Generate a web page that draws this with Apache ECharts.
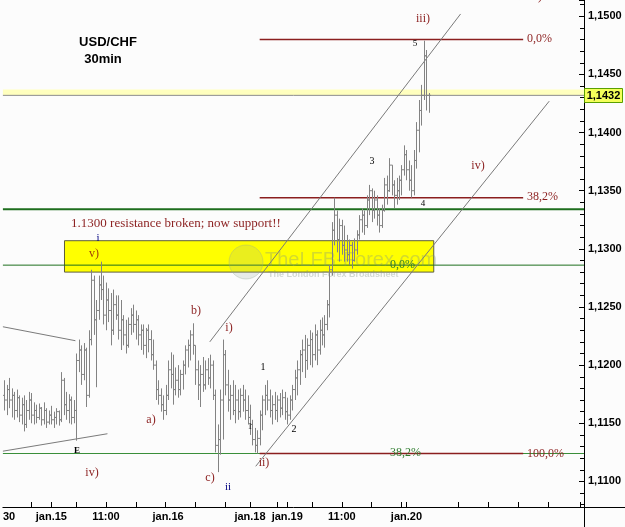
<!DOCTYPE html>
<html>
<head>
<meta charset="utf-8">
<script src="https://cdn.jsdelivr.net/npm/echarts@6/dist/echarts.min.js"></script>
<style>
  html, body { margin: 0; padding: 0; background: #fcfcfc; }
  #chart { width: 625px; height: 527px; }
</style>
</head>
<body>
<div id="chart"></div>
<script>
// number of 30min slots on the axis (bars + empty space on the right)
var N = 234;

// OHLC bars, 30min
var opens = [
  1.1174, 1.1170, 1.1179, 1.1170, 1.1174, 1.1161, 1.1172, 1.1157, 1.1166, 1.1149,
  1.1161, 1.1170, 1.1157, 1.1161, 1.1155, 1.1163, 1.1153, 1.1161, 1.1151, 1.1157,
  1.1153, 1.1155, 1.1160, 1.1153, 1.1187, 1.1166, 1.1161, 1.1170, 1.1155, 1.1161,
  1.1204, 1.1213, 1.1192, 1.1213, 1.1174, 1.1222, 1.1273, 1.1239, 1.1247, 1.1269,
  1.1265, 1.1243, 1.1256, 1.1247, 1.1230, 1.1252, 1.1243, 1.1230, 1.1239, 1.1226,
  1.1217, 1.1235, 1.1243, 1.1235, 1.1239, 1.1226, 1.1230, 1.1217, 1.1230, 1.1222,
  1.1209, 1.1200, 1.1179, 1.1174, 1.1166, 1.1161, 1.1174, 1.1196, 1.1192, 1.1179,
  1.1187, 1.1179, 1.1192, 1.1200, 1.1213, 1.1217, 1.1226, 1.1217, 1.1196, 1.1183,
  1.1192, 1.1183, 1.1196, 1.1189, 1.1200, 1.1174, 1.1131, 1.1136, 1.1170, 1.1209,
  1.1183, 1.1170, 1.1174, 1.1161, 1.1170, 1.1160, 1.1174, 1.1170, 1.1161, 1.1155,
  1.1149, 1.1136, 1.1131, 1.1137, 1.1157, 1.1170, 1.1174, 1.1170, 1.1161, 1.1166,
  1.1161, 1.1170, 1.1163, 1.1172, 1.1160, 1.1157, 1.1170, 1.1179, 1.1189, 1.1196,
  1.1209, 1.1213, 1.1204, 1.1217, 1.1222, 1.1209, 1.1226, 1.1213, 1.1230, 1.1226,
  1.1235, 1.1252, 1.1282, 1.1316, 1.1329, 1.1308, 1.1320, 1.1303, 1.1299, 1.1295,
  1.1303, 1.1290, 1.1299, 1.1312, 1.1325, 1.1329, 1.1320, 1.1342, 1.1350, 1.1333,
  1.1342, 1.1329, 1.1320, 1.1333, 1.1355, 1.1350, 1.1372, 1.1355, 1.1346, 1.1350,
  1.1359, 1.1368, 1.1381, 1.1368, 1.1359, 1.1350, 1.1376, 1.1402, 1.1419, 1.1432,
  1.1466, 1.1432
];
var highs = [
  1.1187, 1.1183, 1.1189, 1.1180, 1.1177, 1.1179, 1.1174, 1.1172, 1.1174, 1.1170,
  1.1177, 1.1176, 1.1168, 1.1166, 1.1167, 1.1164, 1.1168, 1.1163, 1.1161, 1.1165,
  1.1160, 1.1163, 1.1161, 1.1194, 1.1189, 1.1177, 1.1175, 1.1173, 1.1170, 1.1210,
  1.1222, 1.1217, 1.1219, 1.1215, 1.1230, 1.1282, 1.1277, 1.1256, 1.1277, 1.1289,
  1.1277, 1.1271, 1.1266, 1.1262, 1.1265, 1.1260, 1.1260, 1.1256, 1.1243, 1.1239,
  1.1241, 1.1249, 1.1252, 1.1247, 1.1243, 1.1235, 1.1235, 1.1232, 1.1235, 1.1230,
  1.1222, 1.1204, 1.1187, 1.1180, 1.1174, 1.1183, 1.1204, 1.1211, 1.1209, 1.1198,
  1.1200, 1.1196, 1.1204, 1.1217, 1.1222, 1.1230, 1.1236, 1.1217, 1.1204, 1.1200,
  1.1207, 1.1204, 1.1206, 1.1209, 1.1204, 1.1179, 1.1149, 1.1179, 1.1222, 1.1213,
  1.1196, 1.1183, 1.1187, 1.1183, 1.1179, 1.1180, 1.1183, 1.1179, 1.1174, 1.1166,
  1.1153, 1.1146, 1.1144, 1.1161, 1.1174, 1.1183, 1.1187, 1.1179, 1.1174, 1.1177,
  1.1174, 1.1176, 1.1179, 1.1177, 1.1172, 1.1174, 1.1183, 1.1196, 1.1204, 1.1213,
  1.1222, 1.1226, 1.1223, 1.1230, 1.1228, 1.1235, 1.1230, 1.1239, 1.1241, 1.1243,
  1.1256, 1.1286, 1.1323, 1.1344, 1.1333, 1.1326, 1.1325, 1.1320, 1.1312, 1.1308,
  1.1306, 1.1309, 1.1316, 1.1329, 1.1335, 1.1333, 1.1346, 1.1355, 1.1352, 1.1350,
  1.1346, 1.1335, 1.1338, 1.1361, 1.1363, 1.1378, 1.1372, 1.1359, 1.1361, 1.1363,
  1.1372, 1.1389, 1.1385, 1.1376, 1.1372, 1.1385, 1.1409, 1.1428, 1.1441, 1.1479,
  1.1471, 1.1434
];
var lows = [
  1.1161, 1.1157, 1.1163, 1.1155, 1.1153, 1.1155, 1.1151, 1.1149, 1.1143, 1.1146,
  1.1153, 1.1150, 1.1149, 1.1150, 1.1153, 1.1148, 1.1149, 1.1146, 1.1149, 1.1149,
  1.1146, 1.1149, 1.1148, 1.1151, 1.1157, 1.1153, 1.1150, 1.1149, 1.1150, 1.1135,
  1.1194, 1.1183, 1.1187, 1.1164, 1.1172, 1.1217, 1.1226, 1.1181, 1.1239, 1.1256,
  1.1235, 1.1230, 1.1237, 1.1217, 1.1226, 1.1239, 1.1222, 1.1213, 1.1217, 1.1210,
  1.1215, 1.1226, 1.1228, 1.1222, 1.1217, 1.1213, 1.1209, 1.1206, 1.1211, 1.1204,
  1.1196, 1.1170, 1.1166, 1.1160, 1.1153, 1.1157, 1.1170, 1.1180, 1.1166, 1.1174,
  1.1172, 1.1174, 1.1179, 1.1192, 1.1198, 1.1204, 1.1209, 1.1183, 1.1170, 1.1164,
  1.1177, 1.1179, 1.1183, 1.1180, 1.1170, 1.1125, 1.1108, 1.1123, 1.1136, 1.1174,
  1.1160, 1.1153, 1.1157, 1.1150, 1.1153, 1.1155, 1.1160, 1.1153, 1.1149, 1.1140,
  1.1131, 1.1125, 1.1124, 1.1131, 1.1144, 1.1157, 1.1161, 1.1155, 1.1149, 1.1153,
  1.1151, 1.1155, 1.1157, 1.1153, 1.1149, 1.1153, 1.1161, 1.1170, 1.1174, 1.1183,
  1.1194, 1.1189, 1.1196, 1.1200, 1.1198, 1.1204, 1.1200, 1.1209, 1.1217, 1.1215,
  1.1230, 1.1241, 1.1277, 1.1303, 1.1297, 1.1289, 1.1295, 1.1289, 1.1289, 1.1286,
  1.1283, 1.1289, 1.1295, 1.1308, 1.1314, 1.1312, 1.1318, 1.1329, 1.1323, 1.1326,
  1.1320, 1.1314, 1.1318, 1.1332, 1.1338, 1.1349, 1.1346, 1.1335, 1.1338, 1.1342,
  1.1346, 1.1363, 1.1359, 1.1350, 1.1344, 1.1346, 1.1369, 1.1383, 1.1406, 1.1428,
  1.1419, 1.1417
];
var closes = [
  1.1170, 1.1179, 1.1170, 1.1174, 1.1161, 1.1172, 1.1157, 1.1166, 1.1149, 1.1161,
  1.1170, 1.1157, 1.1161, 1.1155, 1.1163, 1.1153, 1.1161, 1.1151, 1.1157, 1.1153,
  1.1155, 1.1160, 1.1153, 1.1187, 1.1166, 1.1161, 1.1170, 1.1155, 1.1161, 1.1204,
  1.1213, 1.1192, 1.1213, 1.1174, 1.1222, 1.1273, 1.1239, 1.1247, 1.1269, 1.1265,
  1.1243, 1.1256, 1.1247, 1.1230, 1.1252, 1.1243, 1.1230, 1.1239, 1.1226, 1.1217,
  1.1235, 1.1243, 1.1235, 1.1239, 1.1226, 1.1230, 1.1217, 1.1230, 1.1222, 1.1209,
  1.1200, 1.1179, 1.1174, 1.1166, 1.1161, 1.1174, 1.1196, 1.1192, 1.1179, 1.1187,
  1.1179, 1.1192, 1.1200, 1.1213, 1.1217, 1.1226, 1.1217, 1.1196, 1.1183, 1.1192,
  1.1183, 1.1196, 1.1189, 1.1200, 1.1174, 1.1131, 1.1136, 1.1170, 1.1209, 1.1183,
  1.1170, 1.1174, 1.1161, 1.1170, 1.1160, 1.1174, 1.1170, 1.1161, 1.1155, 1.1149,
  1.1136, 1.1131, 1.1137, 1.1157, 1.1170, 1.1174, 1.1170, 1.1161, 1.1166, 1.1161,
  1.1170, 1.1163, 1.1172, 1.1160, 1.1157, 1.1170, 1.1179, 1.1189, 1.1196, 1.1209,
  1.1213, 1.1204, 1.1217, 1.1222, 1.1209, 1.1226, 1.1213, 1.1230, 1.1226, 1.1235,
  1.1252, 1.1282, 1.1316, 1.1329, 1.1308, 1.1320, 1.1303, 1.1299, 1.1295, 1.1303,
  1.1290, 1.1299, 1.1312, 1.1325, 1.1329, 1.1320, 1.1342, 1.1350, 1.1333, 1.1342,
  1.1329, 1.1320, 1.1333, 1.1355, 1.1350, 1.1372, 1.1355, 1.1346, 1.1350, 1.1359,
  1.1368, 1.1381, 1.1368, 1.1359, 1.1350, 1.1376, 1.1402, 1.1419, 1.1432, 1.1466,
  1.1432, 1.1432
];

// time axis: where the ticks and the labels sit (slot index)
var tickIdx = [11, 19, 29, 41, 53, 65, 77, 89, 99, 110, 114, 124, 136, 148, 160, 162, 183, 195, 207, 219, 232];
var labelIdx = [2, 19, 41, 66, 99, 114, 136, 162];
var labelText = ['30', 'jan.15', '11:00', 'jan.16', 'jan.18', 'jan.19', '11:00', 'jan.20'];

// price levels
var lastPrice = 1.1432;
var fibLevels = [1.1480, 1.1344, 1.1124];        // 0,0% / 38,2% / 100,0%
var fibFrom = 103.4, fibTo = 209.5;
var greenLevels = [1.1334, 1.1286, 1.1124];
var boxLevels = [1.1280, 1.1307];
var boxFrom = 24.8, boxTo = 173.5;

// drawn trend lines [slot, price]
var channelTop = [[83.3, 1.1220], [184.3, 1.1502]];
var channelBottom = [[101.8, 1.1113], [220.0, 1.1427]];
var triangleTop = [[0, 1.1233], [29.2, 1.1221]];
var triangleBottom = [[0, 1.1126], [42.1, 1.1141]];

var cats = [];
for (var i = 0; i < N; i++) {
    var k = labelIdx.indexOf(i);
    cats.push(k >= 0 ? labelText[k] : '');
}
var bars = [];
for (var j = 0; j < opens.length; j++) {
    bars.push([j, opens[j], closes[j], lows[j], highs[j]]);
}

var red = '#8b1f1f';
var green = '#2f7d2f';
var serif = '"Liberation Serif", "DejaVu Serif", serif';
var sans = '"Liberation Sans", Arial, sans-serif';

function line(points, color, width) {
    return {
        type: 'line', xAxisIndex: 1, yAxisIndex: 0, data: points,
        symbol: 'none', silent: true, z: 2, animation: false,
        lineStyle: {color: color, width: width}
    };
}

var series = [];
series.push({
    type: 'line', xAxisIndex: 1, yAxisIndex: 0, data: [], z: 1, silent: true,
    markArea: {
        silent: true,
        data: [
            [{coord: [0, lastPrice + 0.0005], itemStyle: {color: '#ffffbe', borderWidth: 0}}, {coord: [N, lastPrice]}],
            [{coord: [boxFrom, boxLevels[1]], itemStyle: {color: '#ffff00', borderColor: '#5e5e3a', borderWidth: 1}}, {coord: [boxTo, boxLevels[0]]}]
        ]
    }
});
series.push(line([[0, lastPrice], [N, lastPrice]], '#8c8c8c', 1));
series.push(line([[0, greenLevels[0]], [N, greenLevels[0]]], '#1e6e1e', 2));
series.push(line([[0, greenLevels[1]], [N, greenLevels[1]]], '#1e6e1e', 1));
series.push(line([[0, greenLevels[2]], [N, greenLevels[2]]], '#3a8f3a', 1));
fibLevels.forEach(function (v) {
    series.push(line([[fibFrom, v], [fibTo, v]], red, 1.5));
});
series.push(line(channelTop, '#7a7a7a', 1));
series.push(line(channelBottom, '#7a7a7a', 1));
series.push(line(triangleTop, '#7a7a7a', 1));
series.push(line(triangleBottom, '#7a7a7a', 1));

series.push({
    type: 'custom', xAxisIndex: 0, yAxisIndex: 0, z: 5, silent: true, animation: false,
    data: bars,
    encode: {x: 0, y: [1, 2, 3, 4]},
    renderItem: function (params, api) {
        var idx = api.value(0);
        var hi = api.coord([idx, api.value(4)]);
        var lo = api.coord([idx, api.value(3)]);
        var op = api.coord([idx, api.value(1)]);
        var cl = api.coord([idx, api.value(2)]);
        var x = Math.round(hi[0]) + 0.5;
        var st = {stroke: '#838383', lineWidth: 1};
        return {
            type: 'group',
            children: [
                {type: 'line', shape: {x1: x, y1: hi[1], x2: x, y2: lo[1]}, style: st},
                {type: 'line', shape: {x1: x - 1.5, y1: op[1], x2: x, y2: op[1]}, style: st},
                {type: 'line', shape: {x1: x, y1: cl[1], x2: x + 1.5, y2: cl[1]}, style: st}
            ]
        };
    }
});

// annotation texts: text, x, y, colour, font
var notes = [
    ['USD/CHF', 108, 42, '#000', 'bold 13px ' + sans],
    ['30min', 103, 59, '#000', 'bold 13px ' + sans],
    ['iii)', 423, 19, red, '12px ' + serif],
    ['v)', 537, -3, red, '12px ' + serif],
    ['5', 415, 44, '#000', '9px ' + serif],
    ['3', 372, 161, '#000', '10px ' + serif],
    ['4', 423, 204, '#000', '9px ' + serif],
    ['iv)', 478, 166, red, '12px ' + serif],
    ['1.1300 resistance broken; now support!!', 176, 224, red, '13px ' + serif],
    ['i', 98, 238, '#000080', '11px ' + serif],
    ['v)', 94, 254, '#a0400a', '12px ' + serif],
    ['b)', 196, 311, red, '12px ' + serif],
    ['i)', 229, 328, red, '12px ' + serif],
    ['1', 263, 367, '#000', '10px ' + serif],
    ['1', 250, 427, '#000', '8px ' + serif],
    ['2', 294, 429, '#000', '10px ' + serif],
    ['a)', 151, 420, red, '12px ' + serif],
    ['E', 77, 451, '#000', 'bold 9px ' + serif],
    ['iv)', 92, 473, red, '12px ' + serif],
    ['c)', 210, 478, red, '12px ' + serif],
    ['ii', 228, 487, '#000080', '11px ' + serif],
    ['ii)', 264, 463, red, '12px ' + serif]
];
var graphics = notes.map(function (n) {
    return {
        type: 'text', x: n[1], y: n[2], z: 20, silent: true,
        style: {text: n[0], fill: n[3], font: n[4], align: 'center', verticalAlign: 'middle',
                textAlign: 'center', textVerticalAlign: 'middle'}
    };
});
// level names next to the lines
var levelText = [
    ['0,0%', 527, 39, red], ['38,2%', 527, 197, red], ['100,0%', 527, 454, red],
    ['0,0%', 390, 265, green], ['38,2%', 390, 453, green]
];
levelText.forEach(function (n) {
    graphics.push({
        type: 'text', x: n[1], y: n[2], z: 20, silent: true,
        style: {text: n[0], fill: n[3], font: '12px ' + serif, align: 'left', verticalAlign: 'middle',
                textAlign: 'left', textVerticalAlign: 'middle'}
    });
});
// watermark
graphics.push({type: 'circle', shape: {cx: 246, cy: 262, r: 17}, z: 3, silent: true,
    style: {fill: 'rgba(150,170,150,0.2)', stroke: 'rgba(150,170,150,0.35)'}});
graphics.push({type: 'text', x: 265, y: 260, z: 3, silent: true,
    style: {text: 'TheLFB-Forex.com', fill: 'rgba(130,150,130,0.35)', font: '20px ' + sans,
            align: 'left', verticalAlign: 'middle', textAlign: 'left', textVerticalAlign: 'middle'}});
graphics.push({type: 'text', x: 268, y: 275, z: 3, silent: true,
    style: {text: 'The London Forex Broadsheet', fill: 'rgba(130,150,130,0.35)', font: 'bold 9px ' + sans,
            align: 'left', verticalAlign: 'middle', textAlign: 'left', textVerticalAlign: 'middle'}});
// axis lines running past the corner
graphics.push({type: 'line', shape: {x1: 584, y1: 507.5, x2: 625, y2: 507.5}, z: 20, silent: true,
    style: {stroke: '#000', lineWidth: 1}});
graphics.push({type: 'line', shape: {x1: 584.5, y1: 507, x2: 584.5, y2: 527}, z: 20, silent: true,
    style: {stroke: '#000', lineWidth: 1}});
// last price tag
graphics.push({type: 'rect', shape: {x: 584.5, y: 88.5, width: 38, height: 14}, z: 30, silent: true,
    style: {fill: '#f4ff5a', stroke: '#5aa000', lineWidth: 1}});
graphics.push({type: 'text', x: 603.5, y: 96, z: 31, silent: true,
    style: {text: lastPrice.toFixed(4).replace('.', ','), fill: '#000', font: 'bold 11px ' + sans,
            align: 'center', verticalAlign: 'middle', textAlign: 'center', textVerticalAlign: 'middle'}});

var chart = echarts.init(document.getElementById('chart'));
chart.setOption({
    backgroundColor: '#fcfcfc',
    animation: false,
    grid: {left: 0, right: 41, top: 0, bottom: 20, containLabel: false},
    xAxis: [
        {
            type: 'category', data: cats, boundaryGap: true,
            axisLine: {onZero: false, lineStyle: {color: '#000', width: 1}},
            axisTick: {show: false},
            axisLabel: {interval: 0, color: '#000', fontWeight: 'bold', fontSize: 11, fontFamily: sans, margin: 4},
            splitLine: {show: false}
        },
        {
            // same slots as a number line: carries the time ticks and the drawn lines
            type: 'value', min: 0, max: N, position: 'bottom',
            axisLine: {show: false, onZero: false},
            axisLabel: {show: false},
            axisTick: {
                show: true, inside: true, length: 5, lineStyle: {color: '#000'},
                customValues: tickIdx.map(function (t) { return t + 0.5; })
            },
            splitLine: {show: false}
        }
    ],
    yAxis: {
        type: 'value', position: 'right', min: 1.1078, max: 1.1514, splitNumber: 8,
        axisLine: {show: true, onZero: false, lineStyle: {color: '#000', width: 1}},
        axisTick: {show: true, inside: true, length: 5, lineStyle: {color: '#000'}},
        minorTick: {show: true, splitNumber: 5, length: 4, lineStyle: {color: '#000'}},
        axisLabel: {
            color: '#000', fontWeight: 'bold', fontSize: 11, fontFamily: sans, margin: 4,
            showMinLabel: false, showMaxLabel: false,
            formatter: function (v) { return v.toFixed(4).replace('.', ','); }
        },
        splitLine: {show: false}
    },
    series: series,
    graphic: graphics
});

window.onresize = function () {
    chart.resize();
};
</script>
</body>
</html>
